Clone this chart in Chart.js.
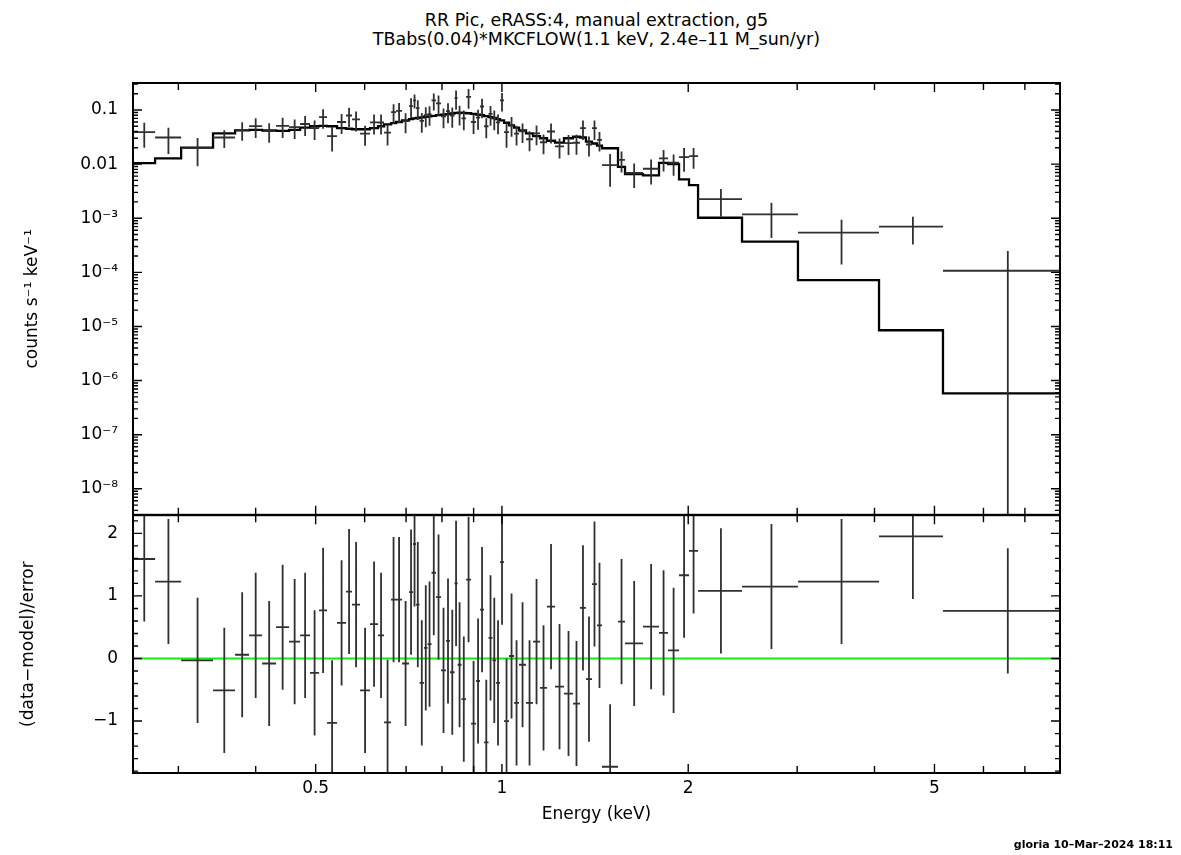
<!DOCTYPE html>
<html>
<head>
<meta charset="utf-8">
<title>RR Pic spectrum</title>
<script src="https://cdn.jsdelivr.net/npm/chart.js@4.4.1/dist/chart.umd.min.js"></script>
<style>
  html, body { margin: 0; padding: 0; background: #fff; }
  #page { position: relative; width: 1181px; height: 855px; overflow: hidden; font-family: "DejaVu Sans", sans-serif; color: #000; }
  #spec-wrap { position: absolute; left: 0; top: 0; width: 1181px; height: 540px; }
  #resid-wrap { position: absolute; left: 0; top: 490px; width: 1181px; height: 365px; }
  .plot-title { position: absolute; left: 133px; width: 927px; top: 11px; text-align: center; font-size: 17.5px; line-height: 19px; white-space: nowrap; }
  #stamp { position: absolute; right: 8px; top: 838px; font-size: 11px; font-weight: bold; white-space: nowrap; }
</style>
</head>
<body>
<div id="page">
  <div class="plot-title">RR Pic, eRASS:4, manual extraction, g5<br>TBabs(0.04)*MKCFLOW(1.1 keV, 2.4e&#8211;11 M_sun/yr)</div>
  <div id="spec-wrap"><canvas id="spec-chart" width="1181" height="540"></canvas></div>
  <div id="resid-wrap"><canvas id="resid-chart" width="1181" height="365"></canvas></div>
  <div id="stamp">gloria 10&#8211;Mar&#8211;2024 18:11</div>
</div>
<script>
// channel grouping (keV), one more edge than bins
const binEdges = [
  0.2534, 0.2751, 0.3031, 0.3413, 0.3705, 0.3903, 0.4097, 0.4315, 0.4529, 0.4719,
  0.4897, 0.5064, 0.5217, 0.5414, 0.5599, 0.5725, 0.5898, 0.6121, 0.6306, 0.6449,
  0.6619, 0.6744, 0.6896, 0.7078, 0.7184, 0.7264, 0.7360, 0.7483, 0.7582, 0.7695,
  0.7825, 0.7972, 0.8121, 0.8243, 0.8383, 0.8479, 0.8604, 0.8750, 0.8915, 0.9082,
  0.9218, 0.9356, 0.9513, 0.9656, 0.9783, 0.9929, 1.0078, 1.0268, 1.0461, 1.0657,
  1.0938, 1.1226, 1.1522, 1.1826, 1.2184, 1.2597, 1.3026, 1.3369, 1.3671, 1.3980,
  1.4243, 1.4511, 1.5402, 1.5809, 1.6904, 1.7941, 1.8554, 1.9329, 2.0060, 2.0746,
  2.4434, 3.0087, 4.0680, 5.1609, 7.977
];

// counts s^-1 keV^-1
const rate = [
  0.039, 0.031, 0.0198, 0.031, 0.043, 0.0505, 0.0407, 0.051, 0.048, 0.055,
  0.046, 0.074, 0.033, 0.060, 0.079, 0.067, 0.0365, 0.059, 0.0587, 0.038,
  0.091, 0.096, 0.062, 0.118, 0.15, 0.108, 0.063, 0.080, 0.084, 0.15,
  0.132, 0.076, 0.095, 0.079, 0.165, 0.0856, 0.070, 0.175, 0.060, 0.072,
  0.116, 0.050, 0.085, 0.070, 0.059, 0.15, 0.039, 0.053, 0.0366, 0.0404,
  0.0288, 0.037, 0.0253, 0.040, 0.0212, 0.0245, 0.0248, 0.046, 0.023, 0.046,
  0.028, 0.0096, 0.012, 0.0069, 0.0082, 0.0128, 0.0106, 0.0135, 0.014, 2.26e-3,
  1.18e-3, 5.4e-4, 6.97e-4, 1.07e-4
];

const rateErr = [
  0.019, 0.0157, 0.0107, 0.0112, 0.016, 0.020, 0.016, 0.0205, 0.019, 0.022,
  0.018, 0.029, 0.016, 0.024, 0.031, 0.027, 0.0146, 0.0236, 0.0235, 0.016,
  0.036, 0.038, 0.025, 0.047, 0.044, 0.043, 0.025, 0.032, 0.033, 0.052,
  0.053, 0.030, 0.038, 0.032, 0.064, 0.034, 0.028, 0.070, 0.024, 0.029,
  0.046, 0.020, 0.034, 0.028, 0.0235, 0.056, 0.019, 0.021, 0.0146, 0.016,
  0.0115, 0.0148, 0.0101, 0.016, 0.0085, 0.0098, 0.0099, 0.018, 0.0092, 0.018,
  0.011, 0.0058, 0.005, 0.0033, 0.0040, 0.0055, 0.0045, 0.0063, 0.0058, 1.2e-3,
  7.5e-4, 4.0e-4, 3.7e-4, 1.4e-4
];

// folded TBabs*MKCFLOW model, per bin
const model = [
  0.0104, 0.0128, 0.0201, 0.037, 0.042, 0.043, 0.042, 0.041, 0.043, 0.047,
  0.050, 0.051, 0.050, 0.046, 0.045, 0.044, 0.044, 0.046, 0.050, 0.054,
  0.057, 0.060, 0.064, 0.068, 0.070, 0.071, 0.073, 0.075, 0.076, 0.078,
  0.080, 0.082, 0.084, 0.086, 0.088, 0.089, 0.088, 0.087, 0.085, 0.082,
  0.080, 0.077, 0.074, 0.071, 0.068, 0.064, 0.058, 0.052, 0.047, 0.042,
  0.037, 0.033, 0.030, 0.027, 0.025, 0.030, 0.032, 0.031, 0.026, 0.024,
  0.022, 0.0196, 0.0089, 0.0065, 0.0062, 0.0105, 0.0100, 0.0052, 0.0041, 1.02e-3,
  3.68e-4, 7.2e-5, 8.5e-6, 5.8e-7
];

// (data-model)/error
const resid = [
  1.59, 1.23, -0.03, -0.51, 0.06, 0.37, -0.08, 0.50, 0.27, 0.37,
  -0.23, 0.77, -1.03, 0.57, 1.07, 0.86, -0.51, 0.55, 0.37, -1.02,
  0.94, 0.94, -0.08, 1.06, 1.83, 0.86, -0.39, 0.17, 0.23, 1.37,
  0.98, -0.19, 0.28, -0.22, 1.20, -0.10, -0.65, 1.26, -1.04, -0.36,
  0.78, -1.34, 0.33, -0.03, -0.39, 1.54, -1.00, 0.04, -0.71, -0.10,
  -0.71, 0.27, -0.47, 0.83, -0.45, -0.56, -0.72, 0.81, -0.33, 1.19,
  0.53, -1.73, 0.59, 0.24, 0.51, 0.41, 0.13, 1.33, 1.72, 1.08,
  1.15, 1.23, 1.95, 0.76
];

const energyLabels = [0.5, 1, 2, 5];
const energyMinor = [0.3, 0.4, 0.6, 0.7, 0.8, 0.9, 3, 4, 6, 7];
const rateDecades = [1e-8, 1e-7, 1e-6, 1e-5, 1e-4, 1e-3, 0.01, 0.1];
const residLabels = [-1, 0, 1, 2];

const eMin = binEdges[0];
const eMax = binEdges[binEdges.length - 1];

const binMid = binEdges.slice(0, -1).map((lo, i) => (lo + binEdges[i + 1]) / 2);

const specPoints = rate.map((v, i) => ({
  x: binMid[i], y: v,
  xMin: binEdges[i], xMax: binEdges[i + 1],
  yMin: v - rateErr[i], yMax: v + rateErr[i]
}));

const modelSteps = model.map((v, i) => ({ x: binEdges[i], y: v }))
  .concat([{ x: eMax, y: model[model.length - 1] }]);

const residPoints = resid.map((v, i) => ({
  x: binMid[i], y: v,
  xMin: binEdges[i], xMax: binEdges[i + 1],
  yMin: v - 1, yMax: v + 1
}));

const SUP = { '-': '\u207B', '0': '\u2070', '1': '\u00B9', '2': '\u00B2', '3': '\u00B3',
  '4': '\u2074', '5': '\u2075', '6': '\u2076', '7': '\u2077', '8': '\u2078', '9': '\u2079' };

function decadeLabel(v) {
  if (Math.abs(v - 0.1) < 1e-12) return '0.1';
  if (Math.abs(v - 0.01) < 1e-13) return '0.01';
  const p = String(Math.round(Math.log10(v)));
  return '10' + p.split('').map(c => SUP[c]).join('');
}

Chart.defaults.font.family = '"DejaVu Sans", sans-serif';
Chart.defaults.font.size = 17;
Chart.defaults.color = '#000';

// crosses: horizontal bar over the bin, vertical bar over the error
const errorBars = {
  id: 'errorBars',
  afterDatasetsDraw(chart) {
    const { ctx, chartArea: a, scales: { x, y } } = chart;
    ctx.save();
    ctx.beginPath();
    ctx.rect(a.left, a.top, a.right - a.left, a.bottom - a.top);
    ctx.clip();
    chart.data.datasets.forEach(ds => {
      if (!ds.crosses) return;
      ctx.strokeStyle = ds.borderColor;
      ctx.lineWidth = ds.borderWidth;
      ctx.beginPath();
      ds.data.forEach(p => {
        const py = y.getPixelForValue(p.y);
        ctx.moveTo(x.getPixelForValue(p.xMin), py);
        ctx.lineTo(x.getPixelForValue(p.xMax), py);
        const px = x.getPixelForValue(p.x);
        const low = (y.type === 'logarithmic' && p.yMin <= 0) ? a.bottom + 4 : y.getPixelForValue(p.yMin);
        ctx.moveTo(px, y.getPixelForValue(p.yMax));
        ctx.lineTo(px, low);
      });
      ctx.stroke();
    });
    ctx.restore();
  }
};

// box frame with inward ticks on all four sides
const frameTicks = {
  id: 'frameTicks',
  afterDraw(chart, args, opts) {
    const { ctx, chartArea: a, scales: { x, y } } = chart;
    ctx.save();
    ctx.strokeStyle = '#000';
    ctx.lineWidth = 1.4;
    ctx.beginPath();
    const xt = energyLabels.map(v => [v, 9]).concat(energyMinor.map(v => [v, 7]));
    xt.forEach(([v, len]) => {
      const px = x.getPixelForValue(v);
      ctx.moveTo(px, a.top); ctx.lineTo(px, a.top + len);
      ctx.moveTo(px, a.bottom); ctx.lineTo(px, a.bottom - len);
    });
    opts.yTicks.forEach(([v, len]) => {
      const py = y.getPixelForValue(v);
      if (py < a.top - 0.5 || py > a.bottom + 0.5) return;
      ctx.moveTo(a.left, py); ctx.lineTo(a.left + len, py);
      ctx.moveTo(a.right, py); ctx.lineTo(a.right - len, py);
    });
    ctx.stroke();
    ctx.lineWidth = 2;
    ctx.strokeRect(a.left, a.top, a.right - a.left, a.bottom - a.top);
    ctx.restore();
  }
};

const rateTicks = [];
for (let d = -9; d <= 0; d++) {
  for (let k = 1; k <= 9; k++) rateTicks.push([k * Math.pow(10, d), k === 1 ? 9 : 5]);
}
const residTicks = [];
for (let i = -10; i <= 12; i++) residTicks.push([i / 5, i % 5 === 0 ? 9 : 5]);

// upper panel: spectrum and model
new Chart(document.getElementById('spec-chart').getContext('2d'), {
  type: 'line',
  data: {
    datasets: [
      {
        label: 'model',
        data: modelSteps,
        stepped: true,
        borderColor: '#000',
        borderWidth: 2.3,
        pointRadius: 0,
        fill: false
      },
      {
        label: 'data',
        data: specPoints,
        crosses: true,
        showLine: false,
        pointRadius: 0,
        borderColor: '#303030',
        borderWidth: 1.8
      }
    ]
  },
  options: {
    responsive: false,
    animation: false,
    devicePixelRatio: 1,
    layout: { padding: { top: 83, right: 121, bottom: 25, left: 0 } },
    plugins: {
      legend: { display: false },
      tooltip: { enabled: false },
      frameTicks: { yTicks: rateTicks }
    },
    scales: {
      x: { type: 'logarithmic', min: eMin, max: eMax, display: false },
      y: {
        type: 'logarithmic',
        min: 3.31e-9,
        max: 0.315,
        grid: { display: false, drawTicks: false },
        border: { display: false },
        afterBuildTicks: s => { s.ticks = rateDecades.map(v => ({ value: v })); },
        afterFit: s => { s.width = 133; },
        ticks: { padding: 15, autoSkip: false, callback: v => decadeLabel(v) },
        title: { display: true, text: 'counts s\u207B\u00B9 keV\u207B\u00B9', padding: { top: 22, bottom: 0 } }
      }
    }
  },
  plugins: [errorBars, frameTicks]
});

// lower panel: residuals
new Chart(document.getElementById('resid-chart').getContext('2d'), {
  type: 'line',
  data: {
    datasets: [
      {
        label: 'zero',
        data: [{ x: eMin, y: 0 }, { x: eMax, y: 0 }],
        borderColor: '#11ee11',
        borderWidth: 2,
        pointRadius: 0
      },
      {
        label: 'residuals',
        data: residPoints,
        crosses: true,
        showLine: false,
        pointRadius: 0,
        borderColor: '#303030',
        borderWidth: 1.8
      }
    ]
  },
  options: {
    responsive: false,
    animation: false,
    devicePixelRatio: 1,
    layout: { padding: { top: 25, right: 121, bottom: 0, left: 0 } },
    plugins: {
      legend: { display: false },
      tooltip: { enabled: false },
      frameTicks: { yTicks: residTicks }
    },
    scales: {
      x: {
        type: 'logarithmic',
        min: eMin,
        max: eMax,
        grid: { display: false, drawTicks: false },
        border: { display: false },
        afterBuildTicks: s => { s.ticks = energyLabels.map(v => ({ value: v })); },
        afterFit: s => { s.height = 82; },
        ticks: { padding: 5, autoSkip: false, maxRotation: 0, callback: v => String(v) },
        title: { display: true, text: 'Energy (keV)', padding: { top: 0, bottom: 30 } }
      },
      y: {
        type: 'linear',
        min: -1.83,
        max: 2.29,
        grid: { display: false, drawTicks: false },
        border: { display: false },
        afterBuildTicks: s => { s.ticks = residLabels.map(v => ({ value: v })); },
        afterFit: s => { s.width = 133; },
        ticks: { padding: 15, autoSkip: false, callback: v => (v < 0 ? '\u2212' + Math.abs(v) : String(v)) },
        title: { display: true, text: '(data\u2212model)/error', padding: { top: 18, bottom: 0 } }
      }
    }
  },
  plugins: [errorBars, frameTicks]
});
</script>
</body>
</html>
